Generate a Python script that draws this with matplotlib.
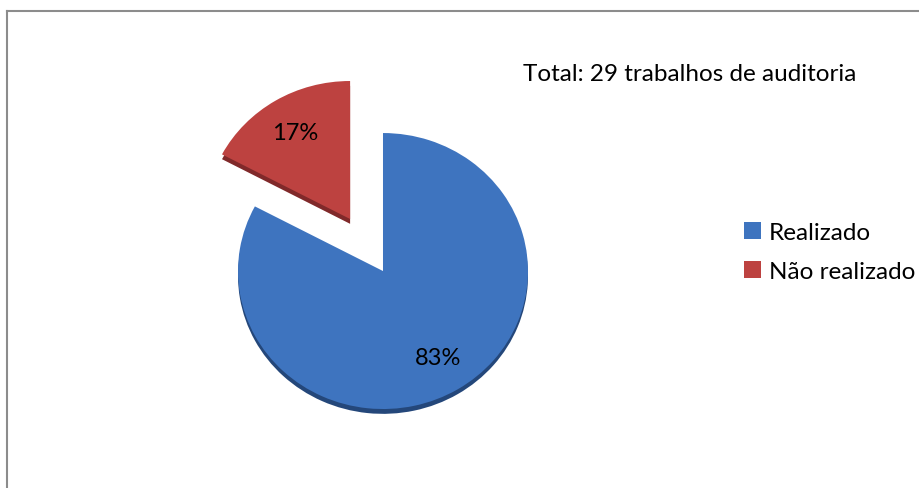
import matplotlib.pyplot as plt
from matplotlib.lines import Line2D

# dados
categorias = ['Realizado', 'Não realizado']
trabalhos = [24, 5]
total = sum(trabalhos)
cores = ['#3E74BF', '#BD4240']
cores_escuras = ['#24477a', '#80292a']
explodir = [0, 0.44]

fig = plt.figure(figsize=(9.2, 4.89), dpi=100)
ax = fig.add_axes([0.1011, 0.0204, 0.6304, 0.8466])

# "espessura" 3D: cópia mais escura deslocada para baixo
ax.pie(trabalhos, colors=cores_escuras, explode=explodir, startangle=90,
       counterclock=False, center=(0, -0.035), radius=1.0)
wedges, _, autotexts = ax.pie(trabalhos, colors=cores, explode=explodir, startangle=90,
                              counterclock=False, radius=1.0,
                              autopct=lambda p: f'{p:.0f}%', pctdistance=0.73,
                              textprops=dict(fontsize=17, family='Lato', color='black'))
ax.set_aspect('auto')
ax.set_xlim(-2, 2)
ax.set_ylim(-1.5, 1.5)
ax.axis('off')

fig.text(0.569, 0.847, f'Total: {total} trabalhos de auditoria', fontsize=17.5,
         family='Lato', va='center', ha='left')

leg = fig.legend(wedges, categorias, loc='center left', bbox_to_anchor=(0.809, 0.483),
                 frameon=False, handlelength=0.7, handleheight=0.7, handletextpad=0.3,
                 labelspacing=0.75, borderpad=0, borderaxespad=0,
                 prop=dict(family='Lato', size=17.5))

# borda (só em cima e à esquerda, como na imagem)
fig.add_artist(Line2D([0.0076, 1.0], [0.975, 0.975], color='#8c8c8c', lw=1.5,
                      transform=fig.transFigure))
fig.add_artist(Line2D([0.0076, 0.0076], [0.0, 0.975], color='#8c8c8c', lw=1.5,
                      transform=fig.transFigure))

fig.savefig('out.png', dpi=100)
